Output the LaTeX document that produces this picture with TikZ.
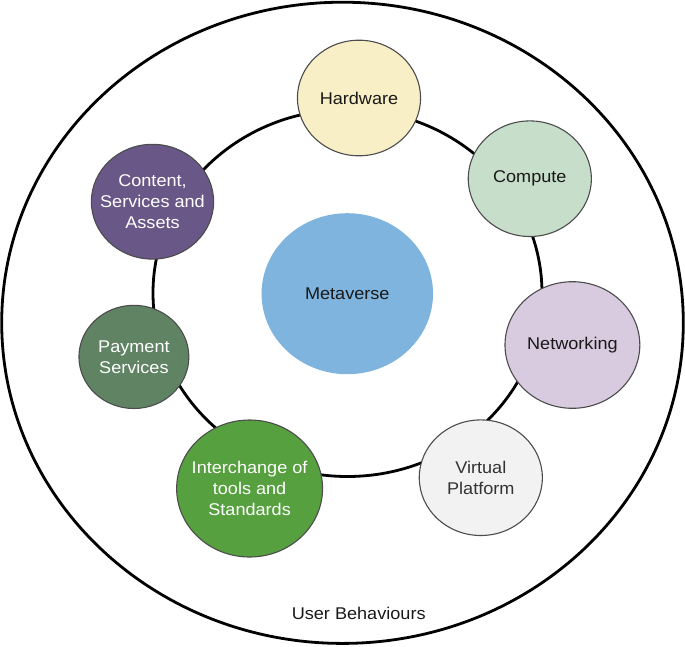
\documentclass[tikz,border=0pt]{standalone}
\usepackage{fontspec}
\setmainfont{Liberation Sans}
\begin{document}
\begin{tikzpicture}[x=1pt,y=1pt,
  bubble/.style={circle, draw=black!70, line width=1.1pt, inner sep=0pt,
    align=center, xscale=1.065, transform shape,
    font=\fontsize{17}{20.8}\selectfont},
  ringline/.style={line width=2.8pt, draw=black}]
\useasboundingbox (0,0) rectangle (685,-646);
\definecolor{cHard}{HTML}{F9EFC6}
\definecolor{cComp}{HTML}{C6DECA}
\definecolor{cCont}{HTML}{695787}
\definecolor{cPay}{HTML}{608363}
\definecolor{cNet}{HTML}{D8CBDF}
\definecolor{cInt}{HTML}{56A03F}
\definecolor{cVirt}{HTML}{F2F2F2}
\definecolor{cMeta}{HTML}{7FB4DE}
% outer circle and ring
\draw[ringline] (342.5,-322.8) ellipse [x radius=340.8pt, y radius=320.6pt];
\draw[ringline] (347.5,-293) ellipse [x radius=194.5pt, y radius=183.5pt];
% centre
\node[bubble, draw=none, fill=cMeta, minimum size=161pt, text=black!90] (meta) at (347.3,-293.7) {Metaverse};
% satellites
\node[bubble, fill=cHard, minimum size=115.6pt, text=black!90] (hard) at (359,-98) {Hardware};
\node[bubble, fill=cComp, minimum size=115.6pt, text=black!90] (comp) at (529.8,-178.7) {Compute};
\node[bubble, fill=cNet, minimum size=126.6pt, text=black!90] (net) at (572.4,-345) {Networking};
\node[bubble, fill=cVirt, minimum size=115.6pt, text=black!80] (virt) at (480.8,-477.7) {Virtual\\Platform};
\node[bubble, fill=cInt, minimum size=137pt, text=white] (inter) at (249.6,-488.5) {Interchange of\\tools and\\Standards};
\node[bubble, fill=cPay, minimum size=103.2pt, text=white] (pay) at (133.9,-356.9) {Payment\\Services};
\node[bubble, fill=cCont, minimum size=114.8pt, text=white] (cont) at (152.5,-201.7) {Content,\\Services and\\Assets};
% label
\node[xscale=1.065, transform shape, font=\fontsize{17}{20.8}\selectfont, text=black!90] (user) at (358.7,-613.9) {User Behaviours};
\end{tikzpicture}
\end{document}
